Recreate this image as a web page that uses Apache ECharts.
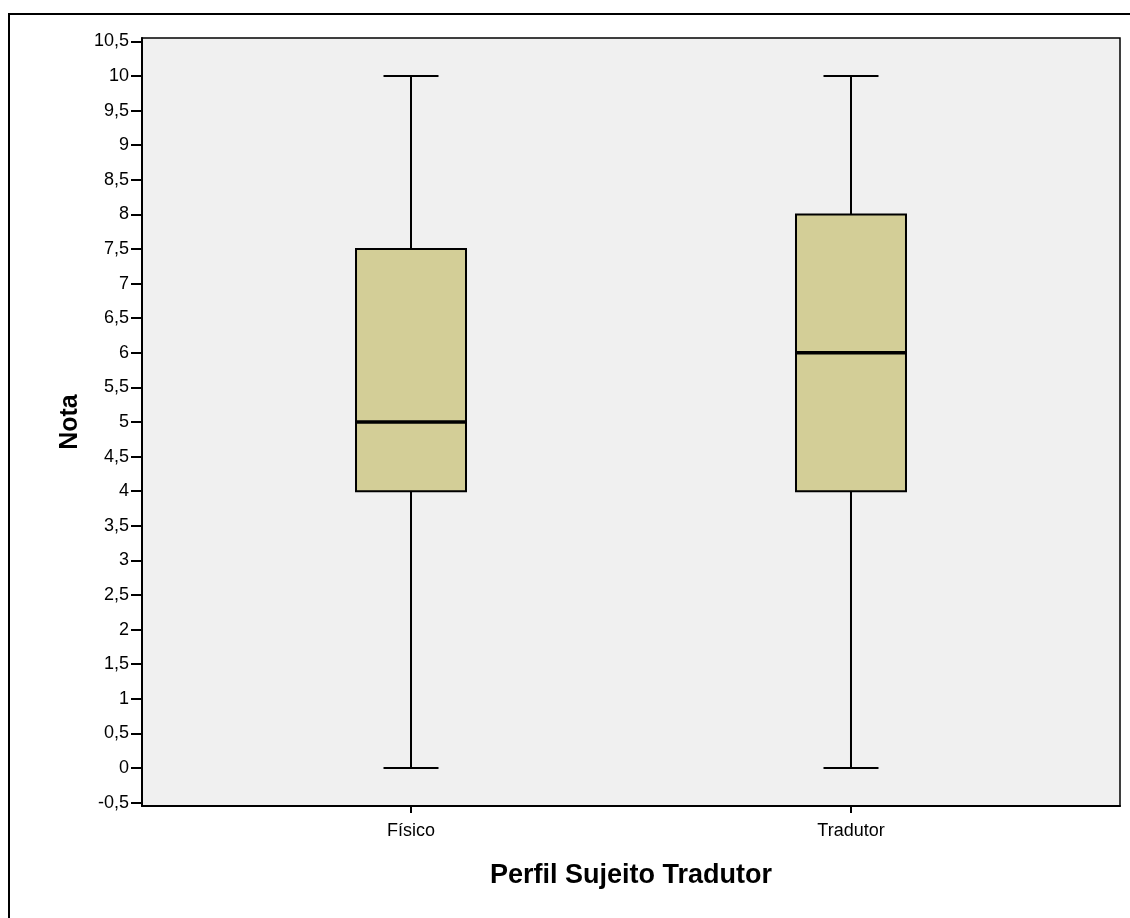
<!DOCTYPE html>
<html><head><meta charset="utf-8">
<script src="https://cdn.jsdelivr.net/npm/echarts@6/dist/echarts.min.js"></script>
<style>html,body{margin:0;padding:0;background:#fff}#c{width:1130px;height:918px}</style>
</head><body><div id="c"></div>
<script>
const categories = ['Físico', 'Tradutor'];
const minValues = [0, 0];
const q1Values = [4, 4];
const medianValues = [5, 6];
const q3Values = [7.5, 8];
const maxValues = [10, 10];
const yTickValues = [-0.5, 0, 0.5, 1, 1.5, 2, 2.5, 3, 3.5, 4, 4.5, 5, 5.5, 6, 6.5, 7, 7.5, 8, 8.5, 9, 9.5, 10, 10.5];
const xTickValues = [0, 1];

const boxData = categories.map((c, i) => [i, minValues[i], q1Values[i], medianValues[i], q3Values[i], maxValues[i]]);

const chart = echarts.init(document.getElementById('c'), null, { renderer: 'canvas' });
const FONT = '"Liberation Sans", Arial, sans-serif';

chart.setOption({
  animation: false,
  backgroundColor: '#fff',
  graphic: [{
    type: 'rect', silent: true, z: -10,
    shape: { x: 9, y: 14, width: 1200, height: 1000 },
    style: { fill: 'none', stroke: '#000', lineWidth: 2 }
  }],
  grid: {
    left: 142, top: 38, width: 978, height: 768,
    show: true, backgroundColor: '#F0F0F0', borderColor: '#000', borderWidth: 1.5
  },
  xAxis: {
    type: 'value', min: -0.6114, max: 1.6114,
    name: 'Perfil Sujeito Tradutor', nameLocation: 'middle', nameGap: 56,
    nameTextStyle: { fontFamily: FONT, fontWeight: 'bold', fontSize: 27, color: '#000' },
    axisLine: { show: true, onZero: false, lineStyle: { color: '#000', width: 2 } },
    axisTick: { show: true, customValues: xTickValues, length: 7, lineStyle: { color: '#000', width: 2 } },
    axisLabel: {
      customValues: xTickValues, margin: 16,
      formatter: v => categories[Math.round(v)] || '',
      fontFamily: FONT, fontSize: 18, color: '#000'
    },
    splitLine: { show: false }
  },
  yAxis: {
    type: 'value', min: -0.55, max: 10.55,
    name: 'Nota', nameLocation: 'middle', nameGap: 58, nameRotate: 90,
    nameTextStyle: { fontFamily: FONT, fontWeight: 'bold', fontSize: 25, color: '#000' },
    axisLine: { show: true, onZero: false, lineStyle: { color: '#000', width: 2 } },
    axisTick: { show: true, customValues: yTickValues, length: 11, lineStyle: { color: '#000', width: 2 } },
    axisLabel: {
      customValues: yTickValues, margin: 13,
      formatter: v => String(v).replace('.', ','),
      fontFamily: FONT, fontSize: 18, color: '#000'
    },
    splitLine: { show: false }
  },
  series: [{
    type: 'custom',
    data: boxData,
    encode: { x: 0, y: [1, 2, 3, 4, 5] },
    renderItem: (params, api) => {
      const x = api.value(0);
      const pMin = api.coord([x, api.value(1)]);
      const pQ1 = api.coord([x, api.value(2)]);
      const pMed = api.coord([x, api.value(3)]);
      const pQ3 = api.coord([x, api.value(4)]);
      const pMax = api.coord([x, api.value(5)]);
      const boxW = api.size([0.25, 0])[0];
      const capW = boxW / 2;
      const cx = pMin[0];
      const ls = { stroke: '#000', lineWidth: 2, fill: 'none' };
      return {
        type: 'group',
        children: [
          { type: 'line', shape: { x1: cx, y1: pQ3[1], x2: cx, y2: pMax[1] }, style: ls },
          { type: 'line', shape: { x1: cx, y1: pMin[1], x2: cx, y2: pQ1[1] }, style: ls },
          { type: 'line', shape: { x1: cx - capW / 2, y1: pMax[1], x2: cx + capW / 2, y2: pMax[1] }, style: ls },
          { type: 'line', shape: { x1: cx - capW / 2, y1: pMin[1], x2: cx + capW / 2, y2: pMin[1] }, style: ls },
          { type: 'rect', shape: { x: cx - boxW / 2, y: pQ3[1], width: boxW, height: pQ1[1] - pQ3[1] },
            style: { fill: '#D3CE97', stroke: '#000', lineWidth: 2 } },
          { type: 'line', shape: { x1: cx - boxW / 2, y1: pMed[1], x2: cx + boxW / 2, y2: pMed[1] },
            style: { stroke: '#000', lineWidth: 3.5 } }
        ]
      };
    }
  }]
});
</script></body></html>
